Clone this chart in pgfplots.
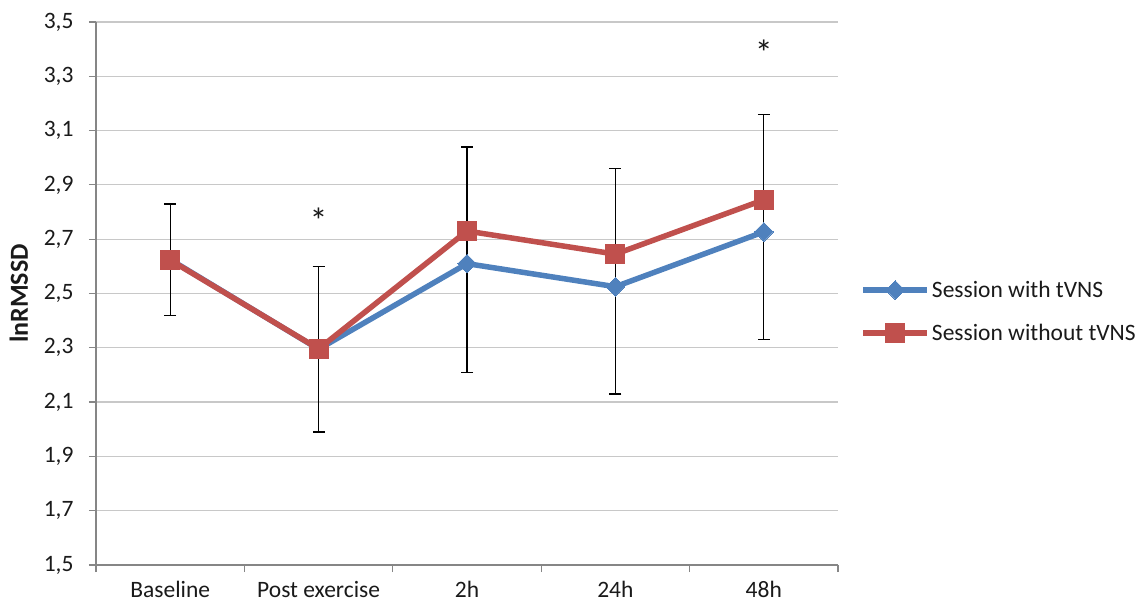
\documentclass[border=0pt]{standalone}
\usepackage{pgfplots}
\pgfplotsset{compat=1.18}
\usepackage{fontspec}
\setmainfont{Carlito}
\definecolor{sblue}{HTML}{4F81BD}
\definecolor{sred}{HTML}{C0504D}
\definecolor{gridc}{HTML}{C8C8C8}
\definecolor{axc}{HTML}{868686}
\definecolor{txt}{HTML}{1A1A1A}
\begin{document}
\begin{tikzpicture}[x=1pt,y=1pt]
\path[use as bounding box] (0,0) rectangle (1145,607);
\begin{axis}[
  at={(96pt,42pt)}, anchor=south west,
  scale only axis, width=742pt, height=543pt,
  xmin=-0.5, xmax=4.5, ymin=1.5, ymax=3.5,
  axis lines*=left,
  axis line style={draw=axc, line width=1.2pt},
  tick align=outside,
  ytick={1.5,1.7,1.9,2.1,2.3,2.5,2.7,2.9,3.1,3.3,3.5},
  ymajorgrids=true,
  grid style={draw=gridc, line width=1.2pt},
  ytick style={draw=axc, line width=1.2pt},
  major tick length=7pt,
  ticklabel style={font=\fontsize{23.5}{26}\selectfont, text=txt},
  yticklabel style={xshift=-12pt, /pgf/number format/.cd, fixed, fixed zerofill, precision=1, use comma, assume math mode=true},
  xtick={0,1,2,3,4},
  xticklabels={Baseline, Post exercise, 2h, 24h, 48h},
  xtick style={draw=none},
  xticklabel style={yshift=-8pt, inner sep=1pt},
  extra x ticks={-0.5,0.5,1.5,2.5,3.5,4.5},
  extra x tick labels={},
  extra x tick style={xtick style={draw=axc, line width=1.2pt}, major tick length=7pt},
  ylabel={\textbf{lnRMSSD}},
  ylabel style={at={(axis description cs:-0.104,0.5)}, anchor=center, font=\fontsize{26}{28}\selectfont, text=txt},
  legend style={at={(1.03,0.467)}, anchor=west, draw=none, fill=none,
    font=\fontsize{23.5}{26}\selectfont, text=txt, row sep=21pt, inner sep=0pt},
  legend cell align=left,
  legend image code/.code={\draw[mark repeat=2,mark phase=2,#1] plot coordinates {(0pt,0pt) (32pt,0pt) (64pt,0pt)};},
  clip=false,
]
% error bars
\addplot[draw=none, mark=none, forget plot,
  error bars/.cd, y dir=both, y explicit,
  error bar style={draw=black, line width=1.3pt},
  error mark options={rotate=90, draw=black, line width=1.3pt, mark size=6pt}]
  coordinates {
  (0,2.625) += (0,0.205) -= (0,0.205)
  (1,2.295) += (0,0.305) -= (0,0.305)
  (2,2.61) += (0,0.43) -= (0,0.40)
  (3,2.525) += (0,0.435) -= (0,0.395)
  (4,2.725) += (0,0.435) -= (0,0.395)
  };
\addplot[sblue, line width=5.5pt, mark=square*, mark size=6.6pt, mark options={solid, fill=sblue, line width=0pt, rotate=45}]
  coordinates {(0,2.625) (1,2.295) (2,2.61) (3,2.525) (4,2.727)};
\addlegendentry{Session with tVNS}
\addplot[sred, line width=5.5pt, mark=square*, mark size=9.5pt, mark options={solid, fill=sred, line width=0pt}]
  coordinates {(0,2.623) (1,2.296) (2,2.73) (3,2.645) (4,2.845)};
\addlegendentry{Session without tVNS}
\node[anchor=north, font=\fontsize{36}{36}\selectfont, text=txt, inner sep=0pt] at (axis cs:1,2.815) {*};
\node[anchor=north, font=\fontsize{36}{36}\selectfont, text=txt, inner sep=0pt] at (axis cs:4,3.435) {*};
\end{axis}
\end{tikzpicture}
\end{document}
